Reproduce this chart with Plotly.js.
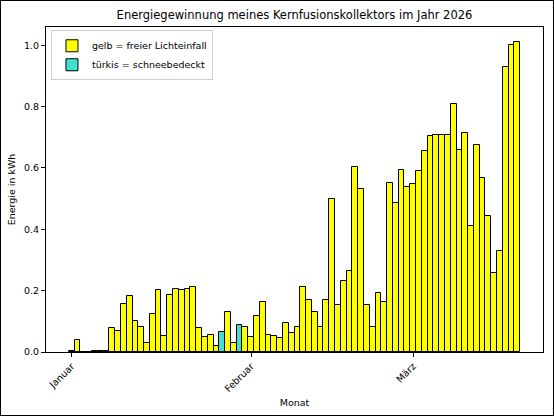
<!DOCTYPE html>
<html>
<head>
<meta charset="utf-8">
<script src="https://cdn.plot.ly/plotly-3.0.1.min.js"></script>
<style>
  body { margin: 0; }
  #chart { width: 552px; height: 414px; border: 1px solid #000; }
</style>
</head>
<body>
<div id="chart"></div>
<script>
var datum = [
  '2026-01-01','2026-01-02','2026-01-03','2026-01-04','2026-01-05','2026-01-06','2026-01-07',
  '2026-01-08','2026-01-09','2026-01-10','2026-01-11','2026-01-12','2026-01-13','2026-01-14',
  '2026-01-15','2026-01-16','2026-01-17','2026-01-18','2026-01-19','2026-01-20','2026-01-21',
  '2026-01-22','2026-01-23','2026-01-24','2026-01-25','2026-01-26','2026-01-27','2026-01-28',
  '2026-01-29','2026-01-30','2026-01-31',
  '2026-02-01','2026-02-02','2026-02-03','2026-02-04','2026-02-05','2026-02-06','2026-02-07',
  '2026-02-08','2026-02-09','2026-02-10','2026-02-11','2026-02-12','2026-02-13','2026-02-14',
  '2026-02-15','2026-02-16','2026-02-17','2026-02-18','2026-02-19','2026-02-20','2026-02-21',
  '2026-02-22','2026-02-23','2026-02-24','2026-02-25','2026-02-26','2026-02-27','2026-02-28',
  '2026-03-01','2026-03-02','2026-03-03','2026-03-04','2026-03-05','2026-03-06','2026-03-07',
  '2026-03-08','2026-03-09','2026-03-10','2026-03-11','2026-03-12','2026-03-13','2026-03-14',
  '2026-03-15','2026-03-16','2026-03-17','2026-03-18','2026-03-19'
];

var energie = [
  0.002, 0.040, 0.000, 0.000, 0.003, 0.003, 0.003,
  0.077, 0.070, 0.155, 0.183, 0.102, 0.080, 0.028,
  0.123, 0.201, 0.051, 0.185, 0.207, 0.202, 0.206,
  0.211, 0.079, 0.050, 0.055, 0.018, 0.065, 0.131,
  0.028, 0.088, 0.080,
  0.048, 0.118, 0.164, 0.057, 0.052, 0.045, 0.096,
  0.061, 0.080, 0.211, 0.171, 0.132, 0.081, 0.170,
  0.498, 0.154, 0.233, 0.263, 0.602, 0.530, 0.153,
  0.081, 0.193, 0.162, 0.552, 0.486, 0.594, 0.537,
  0.549, 0.590, 0.655, 0.703, 0.707, 0.709, 0.707,
  0.807, 0.658, 0.714, 0.410, 0.675, 0.568, 0.445,
  0.259, 0.328, 0.928, 1.002, 1.009
];

// schneebedeckte Tage
var schnee = ['2026-01-27', '2026-01-30'];

var monatTicks = ['2026-01-01', '2026-02-01', '2026-03-01'];
var monatNamen = ['Januar', 'Februar', 'März'];

var gelbX = [], gelbY = [], tuerkisX = [], tuerkisY = [];
for (var i = 0; i < datum.length; i++) {
  if (schnee.indexOf(datum[i]) >= 0) {
    tuerkisX.push(datum[i]); tuerkisY.push(energie[i]);
  } else {
    gelbX.push(datum[i]); gelbY.push(energie[i]);
  }
}

var tag = 86400000;

var trace1 = {
  x: gelbX,
  y: gelbY,
  type: 'bar',
  name: 'gelb = freier Lichteinfall',
  width: tag,
  marker: { color: '#ffff00', line: { color: '#000', width: 1 } }
};

var trace2 = {
  x: tuerkisX,
  y: tuerkisY,
  type: 'bar',
  name: 'türkis = schneebedeckt',
  width: tag,
  marker: { color: '#40e0d0', line: { color: '#000', width: 1 } }
};

var layout = {
  width: 552,
  height: 414,
  font: { family: 'DejaVu Sans', size: 9.5, color: '#000' },
  title: {
    text: 'Energiegewinnung meines Kernfusionskollektors im Jahr 2026',
    font: { size: 11.5 },
    x: 0.5, xref: 'paper', y: 0.975, yanchor: 'top'
  },
  margin: { l: 45, r: 10, t: 26, b: 63 },
  barmode: 'overlay',
  bargap: 0,
  showlegend: true,
  legend: {
    x: 0.01, y: 0.99, xanchor: 'left', yanchor: 'top',
    bgcolor: 'rgba(255,255,255,0.8)', bordercolor: '#d0d0d0', borderwidth: 1,
    itemwidth: 30, tracegroupgap: 0,
    font: { size: 9.5 }
  },
  xaxis: {
    type: 'date',
    range: ['2025-12-27 13:12', '2026-03-23 10:48'],
    tickvals: monatTicks,
    ticktext: monatNamen,
    tickangle: -45,
    ticks: 'outside', ticklen: 4, tickcolor: '#000',
    showline: true, linecolor: '#000', linewidth: 1, mirror: true,
    showgrid: false, zeroline: false,
    title: { text: 'Monat', font: { size: 9.5 }, standoff: 6 }
  },
  yaxis: {
    range: [0, 1.0595],
    tickvals: [0, 0.2, 0.4, 0.6, 0.8, 1.0],
    ticktext: ['0.0', '0.2', '0.4', '0.6', '0.8', '1.0'],
    ticks: 'outside', ticklen: 4, tickcolor: '#000',
    showline: true, linecolor: '#000', linewidth: 1, mirror: true,
    showgrid: false, zeroline: false,
    title: { text: 'Energie in kWh', font: { size: 9.5 }, standoff: 6 }
  },
  plot_bgcolor: '#fff',
  paper_bgcolor: '#fff'
};

Plotly.newPlot('chart', [trace1, trace2], layout, { displayModeBar: false });
</script>
</body>
</html>
